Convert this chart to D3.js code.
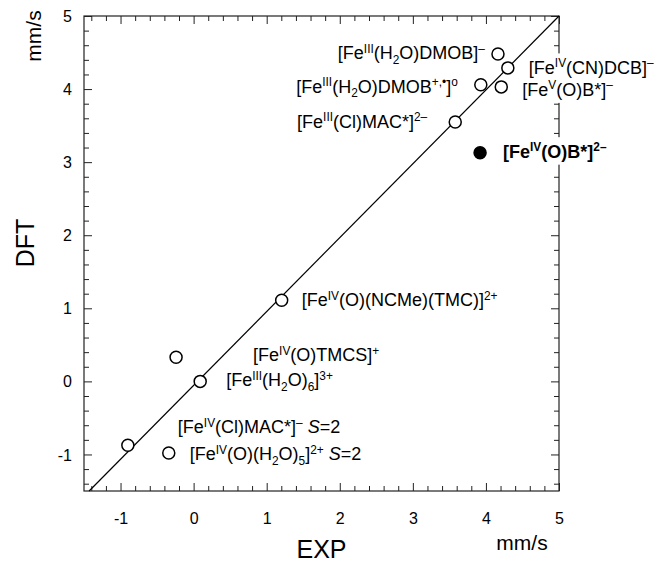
<!DOCTYPE html>
<html>
<head>
<meta charset="utf-8">
<script src="https://cdn.jsdelivr.net/npm/d3@7"></script>
<style>
  html, body { margin: 0; padding: 0; background: #fff; }
  svg { display: block; font-family: "Liberation Sans", Arial, sans-serif; }
</style>
</head>
<body>
<svg id="chart" width="656" height="562"></svg>
<script>
// Mössbauer isomer shifts: experiment vs. DFT (mm/s)
// Label markup: ^{..} superscript, _{..} subscript, ~{..} italic
const compounds = [
  "[Fe^{III}(H_{2}O)DMOB]^{–}",
  "[Fe^{IV}(CN)DCB]^{–}",
  "[Fe^{III}(H_{2}O)DMOB^{+,•}]^{o}",
  "[Fe^{V}(O)B*]^{–}",
  "[Fe^{III}(Cl)MAC*]^{2–}",
  "[Fe^{IV}(O)B*]^{2–}",
  "[Fe^{IV}(O)(NCMe)(TMC)]^{2+}",
  "[Fe^{IV}(O)TMCS]^{+}",
  "[Fe^{III}(H_{2}O)_{6}]^{3+}",
  "[Fe^{IV}(Cl)MAC*]^{–} ~{S}=2",
  "[Fe^{IV}(O)(H_{2}O)_{5}]^{2+} ~{S}=2"
];
const expValues = [4.165, 4.30, 3.93, 4.21, 3.58, 3.92, 1.205, -0.24, 0.09, -0.90, -0.34];
const dftValues = [4.48, 4.29, 4.06, 4.03, 3.55, 3.13, 1.11, 0.33, 0.00, -0.875, -0.98];
const predicted = [false, false, false, false, false, true, false, false, false, false, false];

// correlation line end points (EXP, DFT)
const lineExp = [-1.43, 5];
const lineDft = [-1.5, 5];

const axisDomain = [-1.5, 5];
const majorTicks = [-1, 0, 1, 2, 3, 4, 5];
const tickLabels = ["-1", "0", "1", "2", "3", "4", "5"];
const minorStep = 0.2;

// label placement relative to each point (pixels)
const labelPlacement = [
  { anchor: "end",   dx: -13, dy: 5 },
  { anchor: "start", dx: 21,  dy: 6 },
  { anchor: "end",   dx: -23, dy: 8 },
  { anchor: "start", dx: 21,  dy: 9 },
  { anchor: "end",   dx: -28, dy: 6 },
  { anchor: "start", dx: 23,  dy: 5 },
  { anchor: "start", dx: 20,  dy: 6 },
  { anchor: "start", dx: 77,  dy: 4 },
  { anchor: "start", dx: 26,  dy: 5 },
  { anchor: "start", dx: 50,  dy: -12 },
  { anchor: "start", dx: 21,  dy: 7 }
];

const svg = d3.select("#chart");
const plot = { left: 84, right: 559, top: 16, bottom: 491 };

const x = d3.scaleLinear().domain(axisDomain).range([plot.left, plot.right]);
const y = d3.scaleLinear().domain(axisDomain).range([plot.bottom, plot.top]);

const minorTicks = d3.range(-1.4, 5.0001, minorStep)
  .filter(v => Math.abs(v - Math.round(v)) > 1e-6);

const MAJOR = 8, MINOR = 5;
const frameColor = "#222";

// axes: bottom/left with labels, top/right mirrored without labels
function styleAxis(g) {
  g.select(".domain").remove();
  g.selectAll("line").attr("stroke", frameColor).attr("stroke-width", 1);
}

const gx = svg.append("g").attr("transform", `translate(0,${plot.bottom})`);
gx.call(d3.axisBottom(x).tickValues(majorTicks).tickSize(-MAJOR).tickPadding(0)
  .tickFormat((d, i) => tickLabels[i]))
  .call(styleAxis);
gx.selectAll("text").attr("y", 33).attr("dy", 0).attr("fill", "#000")
  .attr("font-size", 16).attr("font-family", "Liberation Sans, Arial, sans-serif");
svg.append("g").attr("transform", `translate(0,${plot.bottom})`)
  .call(d3.axisBottom(x).tickValues(minorTicks).tickSize(-MINOR).tickFormat(""))
  .call(styleAxis);

const gy = svg.append("g").attr("transform", `translate(${plot.left},0)`);
gy.call(d3.axisLeft(y).tickValues(majorTicks).tickSize(-MAJOR).tickPadding(0)
  .tickFormat((d, i) => tickLabels[i]))
  .call(styleAxis);
gy.selectAll("text").attr("x", -12).attr("dy", "0.35em").attr("fill", "#000")
  .attr("font-size", 16).attr("font-family", "Liberation Sans, Arial, sans-serif");
svg.append("g").attr("transform", `translate(${plot.left},0)`)
  .call(d3.axisLeft(y).tickValues(minorTicks).tickSize(-MINOR).tickFormat(""))
  .call(styleAxis);

svg.append("g").attr("transform", `translate(0,${plot.top})`)
  .call(d3.axisTop(x).tickValues(majorTicks).tickSize(-MAJOR).tickFormat(""))
  .call(styleAxis);
svg.append("g").attr("transform", `translate(0,${plot.top})`)
  .call(d3.axisTop(x).tickValues(minorTicks).tickSize(-MINOR).tickFormat(""))
  .call(styleAxis);
svg.append("g").attr("transform", `translate(${plot.right},0)`)
  .call(d3.axisRight(y).tickValues(majorTicks).tickSize(-MAJOR).tickFormat(""))
  .call(styleAxis);
svg.append("g").attr("transform", `translate(${plot.right},0)`)
  .call(d3.axisRight(y).tickValues(minorTicks).tickSize(-MINOR).tickFormat(""))
  .call(styleAxis);

// frame
svg.append("rect")
  .attr("x", plot.left).attr("y", plot.top)
  .attr("width", plot.right - plot.left).attr("height", plot.bottom - plot.top)
  .attr("fill", "none").attr("stroke", frameColor).attr("stroke-width", 1.2);

// axis titles
svg.append("text").attr("x", (plot.left + plot.right) / 2).attr("y", 558)
  .attr("text-anchor", "middle").attr("font-size", 25).text("EXP");
svg.append("text").attr("x", 522).attr("y", 550)
  .attr("text-anchor", "middle").attr("font-size", 21).text("mm/s");
svg.append("text").attr("transform", "translate(34,243) rotate(-90)")
  .attr("text-anchor", "middle").attr("font-size", 25).text("DFT");
svg.append("text").attr("transform", "translate(41,36) rotate(-90)")
  .attr("text-anchor", "middle").attr("font-size", 21).text("mm/s");

// correlation line
svg.append("line")
  .attr("x1", x(lineExp[0])).attr("y1", y(lineDft[0]))
  .attr("x2", x(lineExp[1])).attr("y2", y(lineDft[1]))
  .attr("stroke", "#000").attr("stroke-width", 1.2);

// points
const pts = compounds.map((c, i) => ({ name: c, exp: expValues[i], dft: dftValues[i], pred: predicted[i], place: labelPlacement[i] }));

svg.append("g").selectAll("circle").data(pts).join("circle")
  .attr("cx", d => x(d.exp)).attr("cy", d => y(d.dft)).attr("r", 6)
  .attr("fill", d => d.pred ? "#000" : "#fff")
  .attr("stroke", "#000").attr("stroke-width", 1.5);

// rich-text labels
function parseMarkup(s) {
  const re = /\^\{([^}]*)\}|_\{([^}]*)\}|~\{([^}]*)\}|([^\^_~]+)/g;
  const out = [];
  let m;
  while ((m = re.exec(s)) !== null) {
    if (m[1] !== undefined) out.push({ t: m[1], kind: "sup" });
    else if (m[2] !== undefined) out.push({ t: m[2], kind: "sub" });
    else if (m[3] !== undefined) out.push({ t: m[3], kind: "ital" });
    else out.push({ t: m[4], kind: "norm" });
  }
  return out;
}

const FS = 18;
const bgLayer = svg.append("g");
const labels = svg.append("g").selectAll("text").data(pts).join("text")
  .attr("x", d => x(d.exp) + d.place.dx)
  .attr("y", d => y(d.dft) + d.place.dy)
  .attr("text-anchor", d => d.place.anchor)
  .attr("font-size", FS)
  .attr("font-weight", d => d.pred ? "bold" : "normal")
  .attr("fill", "#000");

labels.each(function (d) {
  const t = d3.select(this);
  let shift = 0;
  parseMarkup(d.name).forEach(seg => {
    let target = 0, size = FS;
    if (seg.kind === "sup") { target = -0.36 * FS; size = 0.66 * FS; }
    if (seg.kind === "sub") { target = 0.26 * FS; size = 0.66 * FS; }
    const ts = t.append("tspan").attr("font-size", size).text(seg.t);
    if (target !== shift) ts.attr("dy", target - shift);
    if (seg.kind === "ital") ts.attr("font-style", "italic");
    shift = target;
  });
});

// labels that run across the right frame get a white backing
labels.each(function () {
  const b = this.getBBox();
  if (b.x < plot.right && b.x + b.width > plot.right) {
    bgLayer.append("rect")
      .attr("x", b.x - 3).attr("y", b.y - 3)
      .attr("width", b.width + 6).attr("height", b.height + 6)
      .attr("fill", "#fff");
  }
});
</script>
</body>
</html>
